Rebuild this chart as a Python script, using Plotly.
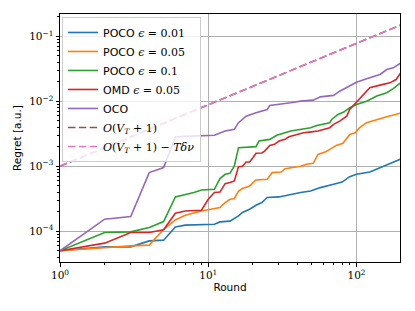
import plotly.graph_objects as go

# ---- data ----
rounds_blue = [1, 2, 3, 4, 5, 6, 7, 9, 11, 12, 14, 16, 17, 19, 21, 23, 25, 30, 36, 42, 49, 57, 70, 80, 90, 100, 123, 144, 168, 200]
regret_blue = [5.0e-5, 5.74e-5, 5.74e-5, 7.10e-5, 7.28e-5, 1.16e-4, 1.24e-4, 1.26e-4, 1.28e-4, 1.39e-4, 1.43e-4,
               1.72e-4, 1.94e-4, 2.18e-4, 2.51e-4, 2.76e-4, 3.30e-4, 3.37e-4, 3.70e-4, 3.94e-4, 4.16e-4, 4.69e-4,
               5.27e-4, 5.71e-4, 6.92e-4, 7.52e-4, 8.15e-4, 9.51e-4, 1.11e-3, 1.30e-3]

rounds_orange = [1, 2, 3, 4, 5, 6, 7, 9, 11, 12, 13, 14, 15, 16, 17, 19, 21, 25, 27, 31, 33, 42, 46, 51, 55, 62, 66,
                 73, 81, 90, 98, 105, 117, 137, 160, 200]
regret_orange = [5.0e-5, 5.62e-5, 5.94e-5, 6.1e-5, 1.07e-4, 1.49e-4, 1.76e-4, 2.05e-4, 2.2e-4, 2.31e-4, 2.76e-4,
                 3.1e-4, 3.16e-4, 4.16e-4, 4.53e-4, 4.97e-4, 6.14e-4, 6.3e-4, 7.98e-4, 8.15e-4, 9.18e-4, 1.0e-3,
                 1.07e-3, 1.11e-3, 1.52e-3, 1.67e-3, 1.82e-3, 2.09e-3, 2.25e-3, 3.09e-3, 3.28e-3, 3.92e-3,
                 4.68e-3, 5.25e-3, 5.78e-3, 6.6e-3]

rounds_green = [1, 2, 3, 4, 5, 6, 8, 9, 11, 12, 13, 14, 15, 16, 21, 22, 26, 29, 36, 42, 49, 54, 66, 68, 75, 82, 90,
                100, 117, 137, 160, 177, 200]
regret_green = [5.0e-5, 9.55e-5, 9.77e-5, 1.14e-4, 1.41e-4, 3.37e-4, 3.94e-4, 4.31e-4, 4.42e-4, 6.46e-4, 7.52e-4,
                7.78e-4, 1.01e-3, 1.93e-3, 2.0e-3, 2.44e-3, 2.59e-3, 2.99e-3, 3.48e-3, 3.69e-3, 3.92e-3, 4.25e-3,
                4.68e-3, 5.25e-3, 6.27e-3, 6.81e-3, 7.94e-3, 8.93e-3, 1.0e-2, 1.2e-2, 1.35e-2, 1.56e-2, 1.95e-2]

rounds_red = [1, 2, 3, 4, 5, 6, 7, 9, 10, 11, 12, 13, 14, 15, 16, 17, 18, 19, 20, 21, 23, 24, 26, 28, 30, 33, 35,
              38, 44, 48, 55, 66, 70, 77, 86, 90, 97, 105, 114, 123, 144, 168, 185, 200]
regret_red = [5.0e-5, 6.55e-5, 9.55e-5, 9.55e-5, 1.05e-4, 1.89e-4, 2.05e-4, 2.10e-4, 3.10e-4, 3.94e-4, 4.0e-4,
              5.40e-4, 5.60e-4, 5.93e-4, 9.86e-4, 1.0e-3, 1.16e-3, 1.16e-3, 1.35e-3, 1.58e-3, 1.6e-3, 1.71e-3,
              2.09e-3, 2.17e-3, 2.44e-3, 2.59e-3, 2.84e-3, 2.99e-3, 3.28e-3, 3.35e-3, 3.48e-3, 3.92e-3, 4.41e-3,
              4.94e-3, 5.90e-3, 7.48e-3, 8.93e-3, 1.07e-2, 1.35e-2, 1.61e-2, 1.77e-2, 1.92e-2, 2.16e-2, 2.8e-2]

rounds_purple = [1, 2, 3, 4, 5, 6, 7, 9, 11, 13, 15, 16, 18, 21, 25, 26, 30, 36, 42, 49, 51, 57, 70, 77, 90, 100,
                 117, 144, 160, 177, 200]
regret_purple = [5.0e-5, 1.53e-4, 1.68e-4, 7.98e-4, 9.55e-4, 2.82e-3, 2.88e-3, 2.95e-3, 2.99e-3, 3.48e-3, 3.69e-3,
                 4.68e-3, 5.90e-3, 6.65e-3, 7.48e-3, 8.61e-3, 8.93e-3, 9.48e-3, 1.005e-2, 1.04e-2, 1.04e-2,
                 1.17e-2, 1.23e-2, 1.43e-2, 1.75e-2, 1.96e-2, 2.22e-2, 2.58e-2, 3.08e-2, 3.27e-2, 3.9e-2]

rounds_bound = [1, 10, 100, 200]
regret_bound = [1.0e-3, 8.8e-3, 7.9e-2, 1.5e-1]

x_ticks = [1, 10, 100]
x_tick_labels = ["10<sup>0</sup>", "10<sup>1</sup>", "10<sup>2</sup>"]
y_ticks = [1e-4, 1e-3, 1e-2, 1e-1]
y_tick_labels = ["10<sup>\u22124</sup>", "10<sup>\u22123</sup>", "10<sup>\u22122</sup>", "10<sup>\u22121</sup>"]

SERIF = "DejaVu Serif"
SANS = "DejaVu Sans"


def m(s):
    return f"<span style=\"font-family:'{SERIF}'\">{s}</span>"


names = [
    "POCO " + m("<i>\u03f5</i> = 0.01"),
    "POCO " + m("<i>\u03f5</i> = 0.05"),
    "POCO " + m("<i>\u03f5</i> = 0.1"),
    "OMD " + m("<i>\u03f5</i> = 0.05"),
    "OCO",
    m("<i>O</i>(<i>V<sub>T</sub></i> + 1)"),
    m("<i>O</i>(<i>V<sub>T</sub></i> + 1) \u2212 <i>T\u03b4\u03bd</i>"),
]

fig = go.Figure()
DASH = "7.5px,3.3px"
series = [
    (rounds_blue, regret_blue, "#1f77b4", "solid"),
    (rounds_orange, regret_orange, "#ff7f0e", "solid"),
    (rounds_green, regret_green, "#2ca02c", "solid"),
    (rounds_red, regret_red, "#d62728", "solid"),
    (rounds_purple, regret_purple, "#9467bd", "solid"),
    (rounds_bound, regret_bound, "#8c564b", DASH),
    (rounds_bound, regret_bound, "#e377c2", DASH),
]
for (xs, ys, c, d), n in zip(series, names):
    fig.add_trace(go.Scatter(x=xs, y=ys, mode="lines", name=n,
                             line=dict(color=c, width=1.6, dash=d)))

minor_x = [v * k for v in (1, 10, 100) for k in range(2, 10) if v * k < 200]
minor_y = [v * k for v in (1e-5, 1e-4, 1e-3, 1e-2, 1e-1) for k in range(2, 10)]

axis_common = dict(
    type="log", showline=True, linecolor="black", linewidth=1, mirror=True,
    ticks="outside", ticklen=3.5, tickcolor="black", tickwidth=1,
    showgrid=True, gridcolor="#b0b0b0", gridwidth=1, zeroline=False, automargin=False,
    tickfont=dict(family=SERIF, size=10.5, color="black"),
    title_font=dict(family=SANS, size=10.5, color="black"),
)

fig.update_xaxes(**axis_common, range=[0, 2.2935], tickmode="array", tickvals=x_ticks, ticktext=x_tick_labels,
                 title_text="Round", title_standoff=3,
                 minor=dict(tickmode="array", tickvals=minor_x, ticks="outside", ticklen=2,
                            tickcolor="black", showgrid=False))
fig.update_yaxes(**axis_common, range=[-4.474, -0.657], tickmode="array", tickvals=y_ticks, ticktext=y_tick_labels,
                 title_text="Regret [a.u.]", title_standoff=5,
                 minor=dict(tickmode="array", tickvals=minor_y, ticks="outside", ticklen=2,
                            tickcolor="black", showgrid=False))

# page body adds an 8px offset; figure sized/margined to compensate
fig.update_layout(
    width=407, height=303,
    margin=dict(l=52, r=15, t=6, b=49),
    paper_bgcolor="white", plot_bgcolor="white",
    font=dict(family=SANS, size=10.5, color="black"),
    legend=dict(x=0.006, y=0.988, xanchor="left", yanchor="top",
                bgcolor="rgba(255,255,255,0.8)", bordercolor="#cccccc", borderwidth=1,
                font=dict(family=SANS, size=11, color="black"), tracegroupgap=0, itemwidth=30),
    showlegend=True,
)

fig.write_html("out.html")
